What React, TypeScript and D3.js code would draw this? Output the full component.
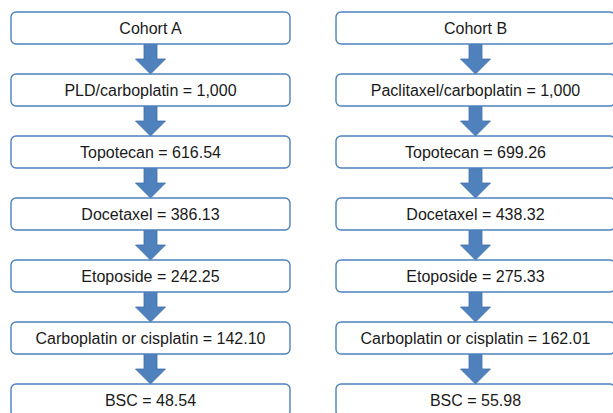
import React from 'react';
import * as d3 from 'd3';

const cohorts = ['Cohort A', 'Cohort B'];
const treatmentsA = ['PLD/carboplatin', 'Topotecan', 'Docetaxel', 'Etoposide', 'Carboplatin or cisplatin', 'BSC'];
const treatmentsB = ['Paclitaxel/carboplatin', 'Topotecan', 'Docetaxel', 'Etoposide', 'Carboplatin or cisplatin', 'BSC'];
const valuesA = ['1,000', '616.54', '386.13', '242.25', '142.10', '48.54'];
const valuesB = ['1,000', '699.26', '438.32', '275.33', '162.01', '55.98'];

const W = 613;
const H = 413;
const boxW = 279;
const boxH = 32;
const blue = '#4f81bd';

const App: React.FC = () => {
  const columns = cohorts.map((c, i) => {
    const names = i === 0 ? treatmentsA : treatmentsB;
    const vals = i === 0 ? valuesA : valuesB;
    return { cohort: c, labels: [c, ...names.map((n, j) => `${n} = ${vals[j]}`)] };
  });

  // column centres and row tops
  const x = d3.scalePoint<string>().domain(cohorts).range([150.5, 475.5]);
  const y = d3.scaleLinear().domain([0, 1]).range([12, 74]);

  const arrow = (cx: number, top: number, bottom: number) => {
    const shaft = 6.5;
    const head = 15;
    const mid = (top + bottom) / 2;
    const pts: [number, number][] = [
      [cx - shaft, top], [cx + shaft, top], [cx + shaft, mid], [cx + head, mid],
      [cx, bottom], [cx - head, mid], [cx - shaft, mid],
    ];
    return d3.line()(pts) + 'Z';
  };

  return (
    <svg width={W} height={H} style={{ position: 'absolute', left: 0, top: 0, background: '#fff' }}
      fontFamily="'Liberation Sans', Arial, sans-serif">
      {columns.map(col => {
        const cx = x(col.cohort)!;
        return (
          <g key={col.cohort}>
            {col.labels.slice(1).map((_, i) => (
              <path key={'a' + i} d={arrow(cx, y(i) + boxH, y(i + 1))}
                fill={blue} stroke="#3f6fa8" strokeWidth={0.8} />
            ))}
            {col.labels.map((lab, i) => (
              <g key={lab + i}>
                <rect x={cx - boxW / 2} y={y(i)} width={boxW} height={boxH} rx={5} ry={5}
                  fill="#fff" stroke={blue} strokeWidth={1.4} />
                <text x={cx} y={y(i) + boxH / 2 + 0.5} textAnchor="middle" dominantBaseline="central"
                  fontSize={16} fill="#1a1a1a">{lab}</text>
              </g>
            ))}
          </g>
        );
      })}
    </svg>
  );
};

export default App;
